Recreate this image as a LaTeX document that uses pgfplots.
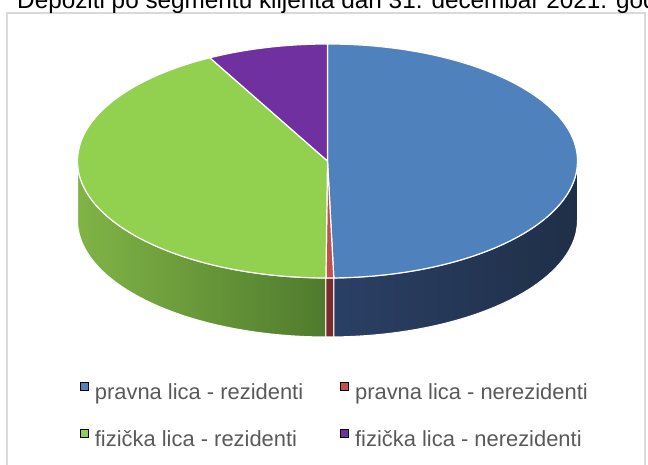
\documentclass[border=0pt]{standalone}
\usepackage{fontspec}
\setmainfont{Liberation Sans}
\usepackage{pgfplots}
\pgfplotsset{compat=1.18}
\usepackage{pgfplotstable}
\definecolor{cBlue}{HTML}{4F81BD}
\definecolor{cRed}{HTML}{C0504D}
\definecolor{cGreen}{HTML}{92D050}
\definecolor{cPurple}{HTML}{7030A0}
\definecolor{sBlueL}{HTML}{2B4066}
\definecolor{sBlueR}{HTML}{1F2F47}
\definecolor{sGreenL}{HTML}{80B446}
\definecolor{sGreenR}{HTML}{4F7A2D}
\definecolor{sRed}{HTML}{7A2A2A}
\definecolor{legtext}{HTML}{595959}
\definecolor{frame}{HTML}{D9D9D9}

% share of deposits by client segment (percent)
\pgfplotstableread{
segment share
1 49.6
2 0.5
3 42.1
4 7.8
}\piedata

\begin{document}
\begin{tikzpicture}
\pgfplotstablegetelem{0}{share}\of\piedata \let\vA\pgfplotsretval
\pgfplotstablegetelem{1}{share}\of\piedata \let\vB\pgfplotsretval
\pgfplotstablegetelem{2}{share}\of\piedata \let\vC\pgfplotsretval
\pgfplotstablegetelem{3}{share}\of\piedata \let\vD\pgfplotsretval
\pgfmathsetmacro\tA{90-3.6*\vA}
\pgfmathsetmacro\tB{\tA-3.6*\vB}
\pgfmathsetmacro\tC{\tB-3.6*\vC}
\pgfmathsetmacro\tD{\tC-3.6*\vD}
\def\cx{327.5}\def\cy{304}
\def\ra{250bp}\def\rb{117bp}\def\dep{59bp}
\begin{axis}[
  width=648bp, height=465bp, scale only axis,
  xmin=0, xmax=648, ymin=0, ymax=465,
  hide axis, clip=false,
  legend columns=2,
  legend cell align=left,
  legend image code/.code={\fill[#1] (0bp,4bp) rectangle (7.5bp,11.5bp);},
  legend style={draw=none, fill=none, inner sep=0pt, outer sep=0pt,
    at={(axis cs:80,24)}, anchor=base west,
    font=\fontsize{22}{26}\selectfont, text=legtext,
    row sep=25bp,
    nodes={inner sep=0pt, text height=16bp, text depth=5bp},
    /tikz/every odd column/.append style={column sep=7bp},
    /tikz/every even column/.append style={column sep=37bp}},
]
\addlegendimage{fill=cBlue}
\addlegendentry{pravna lica - rezidenti}
\addlegendimage{fill=cRed}
\addlegendentry{pravna lica - nerezidenti}
\addlegendimage{fill=cGreen}
\addlegendentry{fizička lica - rezidenti}
\addlegendimage{fill=cPurple}
\addlegendentry{fizička lica - nerezidenti}

% frame
\draw[frame, line width=1.5bp] (axis cs:7,-10) -- (axis cs:7,452) -- (axis cs:645,452) -- (axis cs:645,-10);
% title (cut at the top, as in the reference)
\node[anchor=base west, inner sep=0pt, font=\fontsize{24.4}{28}\selectfont, text=black] at (axis cs:17,456) {Depoziti po segmentu klijenta dan 31. decembar 2021. godine};

% side faces
\path[left color=sGreenL, right color=sGreenR, draw=white, line width=1bp]
  (axis cs:\cx,\cy) ++(-180:250bp and 117bp)
  arc[start angle=-180, end angle=\tB, x radius=\ra, y radius=\rb]
  -- ++(0,-\dep)
  arc[start angle=\tB, end angle=-180, x radius=\ra, y radius=\rb] -- cycle;
\path[fill=sRed, draw=white, line width=1bp]
  (axis cs:\cx,\cy) ++(\tB:250bp and 117bp)
  arc[start angle=\tB, end angle=\tA, x radius=\ra, y radius=\rb]
  -- ++(0,-\dep)
  arc[start angle=\tA, end angle=\tB, x radius=\ra, y radius=\rb] -- cycle;
\path[left color=sBlueL, right color=sBlueR, draw=white, line width=1bp]
  (axis cs:\cx,\cy) ++(\tA:250bp and 117bp)
  arc[start angle=\tA, end angle=0, x radius=\ra, y radius=\rb]
  -- ++(0,-\dep)
  arc[start angle=0, end angle=\tA, x radius=\ra, y radius=\rb] -- cycle;

% top faces
\path[fill=cBlue, draw=white, line width=1.2bp, line join=round]
  (axis cs:\cx,\cy) -- ++(90:250bp and 117bp)
  arc[start angle=90, end angle=\tA, x radius=\ra, y radius=\rb] -- cycle;
\path[fill=cRed, draw=white, line width=1.2bp, line join=round]
  (axis cs:\cx,\cy) -- ++(\tA:250bp and 117bp)
  arc[start angle=\tA, end angle=\tB, x radius=\ra, y radius=\rb] -- cycle;
\path[fill=cGreen, draw=white, line width=1.2bp, line join=round]
  (axis cs:\cx,\cy) -- ++(\tB:250bp and 117bp)
  arc[start angle=\tB, end angle=\tC, x radius=\ra, y radius=\rb] -- cycle;
\path[fill=cPurple, draw=white, line width=1.2bp, line join=round]
  (axis cs:\cx,\cy) -- ++(\tC:250bp and 117bp)
  arc[start angle=\tC, end angle=\tD, x radius=\ra, y radius=\rb] -- cycle;
\end{axis}
\pgfresetboundingbox
\path[use as bounding box] (current axis.south west) rectangle (current axis.north east);
\end{tikzpicture}
\end{document}
